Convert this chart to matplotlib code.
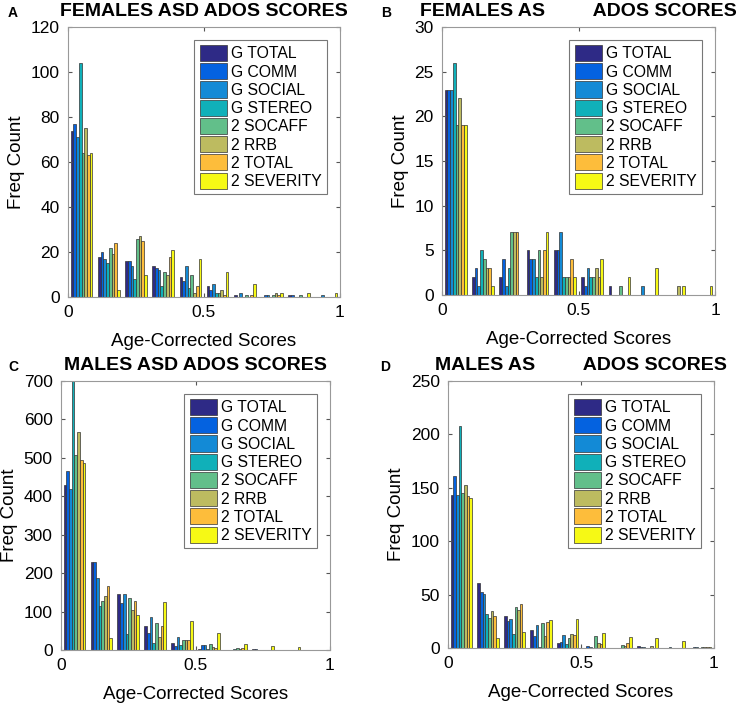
import numpy as np
import matplotlib
matplotlib.use('Agg')
import matplotlib.pyplot as plt

plt.rcParams['font.family'] = ['Liberation Sans', 'DejaVu Sans']

series = ['G TOTAL', 'G COMM', 'G SOCIAL', 'G STEREO',
          '2 SOCAFF', '2 RRB', '2 TOTAL', '2 SEVERITY']
colors = ['#2e2a86', '#0462e0', '#138ad6', '#10b0b9',
          '#62bf8a', '#bdbb60', '#fdbd3b', '#f6f915']

bin_centers = np.arange(0.05, 1.0, 0.1)

# counts[bin][series]
females_asd = [
    [74, 77, 71, 104, 64, 75, 63, 64],
    [18, 20, 17, 15, 22, 19, 24, 3],
    [16, 16, 14, 8, 26, 27, 25, 10],
    [14, 13, 12, 5, 11, 10, 18, 21],
    [9, 7, 14, 4, 10, 2, 5, 17],
    [5, 3, 6, 2, 2, 3, 1, 11],
    [1, 0, 2, 0, 1, 0, 1, 6],
    [0, 1, 1, 0, 1, 2, 1, 2],
    [1, 1, 0, 0, 1, 0, 0, 2],
    [0, 0, 1, 0, 0, 0, 0, 2],
]
females_as = [
    [23, 23, 23, 26, 19, 22, 19, 19],
    [2, 3, 1, 5, 4, 3, 3, 1],
    [2, 4, 1, 3, 7, 7, 7, 0],
    [5, 4, 4, 2, 5, 2, 5, 7],
    [5, 5, 7, 2, 2, 2, 4, 2],
    [2, 1, 3, 2, 2, 3, 2, 4],
    [1, 0, 0, 0, 1, 0, 0, 2],
    [0, 0, 1, 0, 0, 0, 0, 3],
    [0, 0, 0, 0, 0, 1, 0, 1],
    [0, 0, 0, 0, 0, 0, 0, 1],
]
males_asd = [
    [430, 465, 420, 720, 507, 567, 495, 487],
    [228, 228, 188, 115, 127, 140, 167, 30],
    [145, 123, 146, 42, 135, 103, 127, 90],
    [62, 45, 86, 18, 70, 35, 62, 126],
    [18, 10, 33, 12, 25, 27, 25, 76],
    [3, 12, 12, 2, 15, 8, 5, 43],
    [1, 1, 1, 2, 4, 3, 6, 15],
    [2, 2, 1, 1, 1, 0, 1, 10],
    [1, 1, 1, 0, 1, 1, 0, 7],
    [1, 1, 1, 1, 1, 1, 0, 0],
]
males_as = [
    [143, 161, 143, 208, 145, 153, 142, 140],
    [61, 52, 51, 32, 28, 35, 30, 9],
    [30, 25, 27, 13, 38, 36, 41, 15],
    [17, 11, 22, 1, 23, 11, 24, 26],
    [5, 6, 12, 4, 9, 13, 12, 27],
    [0, 2, 1, 0, 11, 5, 4, 14],
    [0, 0, 0, 0, 3, 2, 5, 10],
    [2, 1, 1, 0, 0, 2, 0, 9],
    [0, 0, 1, 0, 0, 0, 0, 7],
    [0, 1, 1, 0, 1, 1, 1, 1],
]

# letter, title, data, ymax, ystep, axes box in px (left, top, right, bottom), letter pos px
panels = [
    ('A', 'FEMALES ASD ADOS SCORES', females_asd, 120, 20, (68, 27, 340, 297), (8, 13)),
    ('B', 'FEMALES AS         ADOS SCORES', females_as, 30, 5, (442, 27, 715, 295), (381, 13)),
    ('C', 'MALES ASD ADOS SCORES', males_asd, 700, 100, (61, 381, 330, 650), (8, 367)),
    ('D', 'MALES AS         ADOS SCORES', males_as, 250, 50, (448, 381, 714, 648), (380, 367)),
]

W, H = 743, 708
fig = plt.figure(figsize=(W / 100, H / 100), dpi=100)

n = len(series)
group_w = 0.08
bar_w = group_w / n

for letter, title, counts, ymax, ystep, (l, t, r, b), (lx, ly) in panels:
    ax = fig.add_axes([l / W, (H - b) / H, (r - l) / W, (b - t) / H])
    counts = np.array(counts)
    for j in range(n):
        x = bin_centers - group_w / 2 + bar_w * (j + 0.5)
        ax.bar(x, counts[:, j], width=bar_w, color=colors[j],
               edgecolor='#333333', linewidth=0.5, label=series[j])
    ax.set_xlim(0, 1)
    ax.set_ylim(0, ymax)
    ax.set_xticks([0, 0.5, 1])
    ax.set_xticklabels(['0', '0.5', '1'])
    ax.set_yticks(np.arange(0, ymax + 1, ystep))
    ax.tick_params(direction='in', top=True, right=True, labelsize=12.5,
                   length=3, color='#555555', pad=6)
    for s in ax.spines.values():
        s.set_color('#999999')
        s.set_linewidth(0.8)
    ax.set_xlabel('Age-Corrected Scores', fontsize=13.5, labelpad=9)
    ax.set_ylabel('Freq Count', fontsize=13.5, labelpad=4)
    ax.set_title(title, fontsize=14, fontweight='bold', pad=8)
    leg = ax.legend(loc='upper right', fontsize=11.3, handlelength=1.75,
                    handleheight=1.2, labelspacing=0.12, handletextpad=0.25,
                    borderpad=0.35, borderaxespad=0.8, fancybox=False,
                    framealpha=1)
    leg.get_frame().set_edgecolor('#777777')
    leg.get_frame().set_linewidth(0.8)
    fig.text(lx / W, 1 - ly / H, letter,
             fontsize=10, fontweight='bold', ha='left', va='center')

fig.savefig('out.png', dpi=100)
